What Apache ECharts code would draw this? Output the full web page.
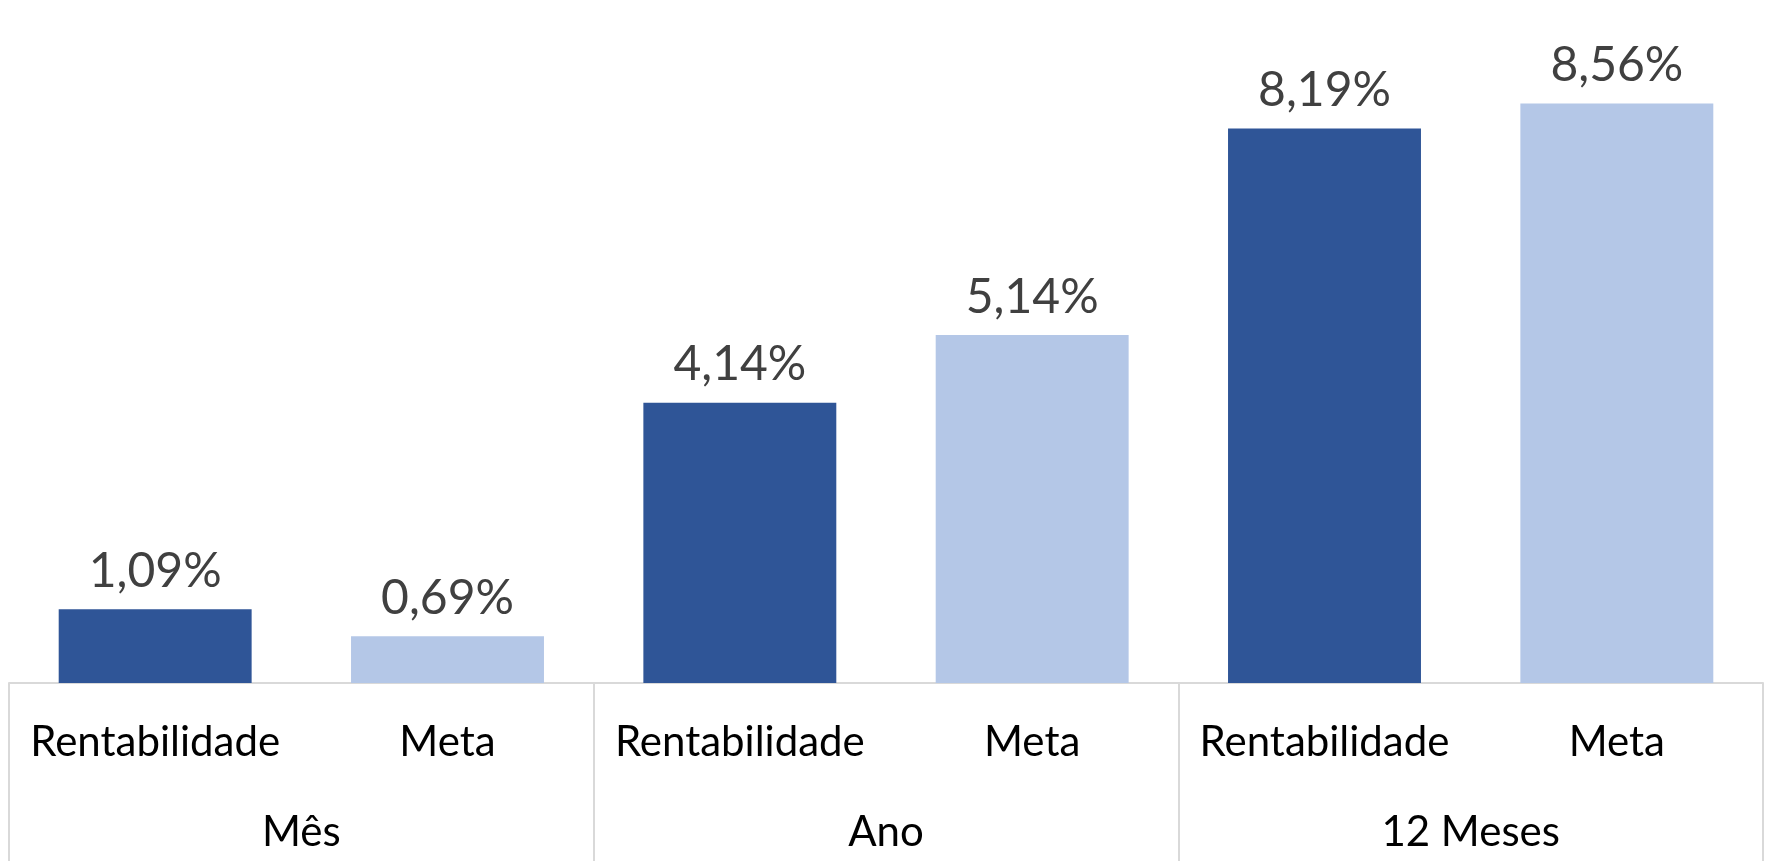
<!DOCTYPE html>
<html>
<head>
<meta charset="utf-8">
<script src="https://cdn.jsdelivr.net/npm/echarts@6/dist/echarts.min.js"></script>
<style>
  html, body { margin: 0; padding: 0; background: #fff; }
  #main { width: 1775px; height: 861px; }
</style>
</head>
<body>
<div id="main"></div>
<script>
var groups = ['Mês', 'Ano', '12 Meses'];
var subCategories = ['Rentabilidade', 'Meta'];
var rentabilidade = [1.09, 4.14, 8.19];
var meta = [0.69, 5.14, 8.56];

var darkBlue = '#2F5597';
var lightBlue = '#B4C7E7';

// flatten into 6 bars: Rentabilidade, Meta per group
var categories = [];
var values = [];
groups.forEach(function (g, i) {
    categories.push(subCategories[0]);
    values.push({ value: rentabilidade[i], itemStyle: { color: darkBlue } });
    categories.push(subCategories[1]);
    values.push({ value: meta[i], itemStyle: { color: lightBlue } });
});

var chart = echarts.init(document.getElementById('main'));
var font = 'Lato, "Noto Sans", sans-serif';

var option = {
    animation: false,
    grid: { left: 9, right: 12, top: 6, bottom: 178 },
    xAxis: [
        {
            type: 'category',
            data: categories,
            axisLine: { lineStyle: { color: '#D9D9D9', width: 2 } },
            axisTick: { show: false },
            axisLabel: {
                interval: 0,
                margin: 38,
                color: '#000',
                fontSize: 42,
                fontFamily: font
            }
        },
        {
            type: 'category',
            data: groups,
            position: 'bottom',
            axisLine: { show: false },
            axisTick: { show: true, length: 178, lineStyle: { color: '#D9D9D9', width: 2 } },
            axisLabel: {
                interval: 0,
                margin: 128,
                color: '#000',
                fontSize: 42,
                fontFamily: font
            }
        }
    ],
    yAxis: {
        type: 'value',
        min: 0,
        max: 10,
        show: false,
        splitLine: { show: false }
    },
    series: [
        {
            type: 'bar',
            xAxisIndex: 0,
            data: values,
            barWidth: '66%',
            label: {
                show: true,
                position: 'top',
                distance: 14,
                color: '#404040',
                fontSize: 48,
                fontFamily: font,
                formatter: function (p) {
                    return p.value.toFixed(2).replace('.', ',') + '%';
                }
            }
        }
    ]
};

chart.setOption(option);
</script>
</body>
</html>
